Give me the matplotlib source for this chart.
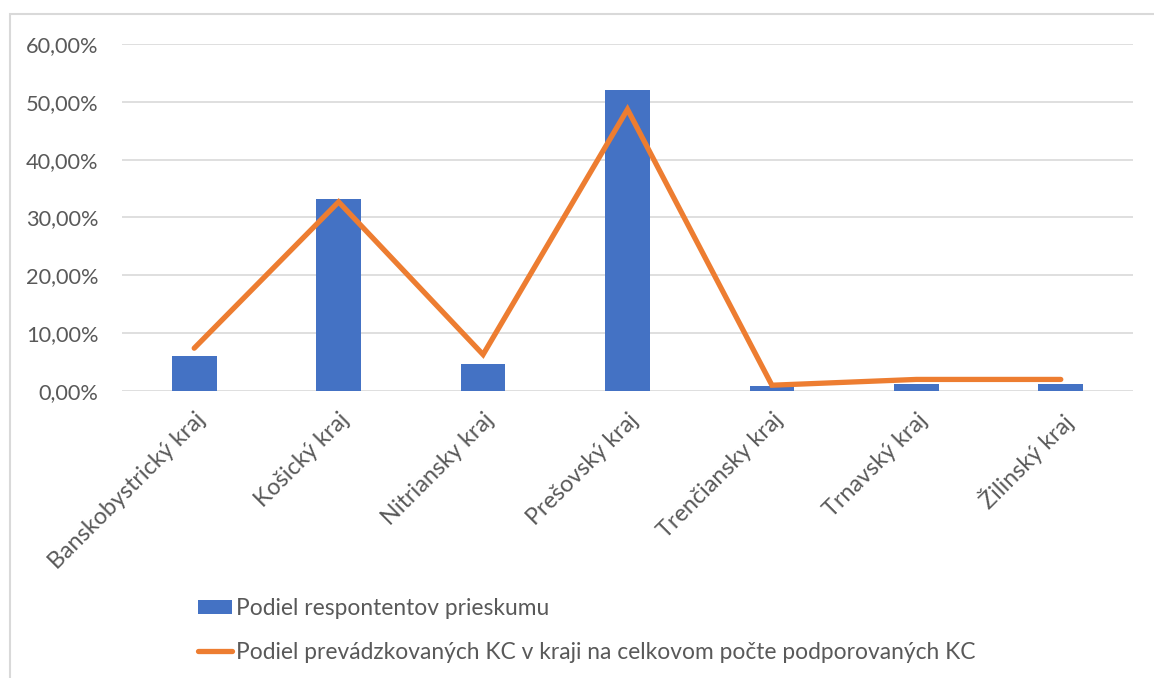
import matplotlib
matplotlib.use('Agg')
import matplotlib.pyplot as plt
from matplotlib.patches import Rectangle
from matplotlib.ticker import FuncFormatter
import numpy as np

# podiel podľa krajov
kraje = ['Banskobystrický kraj', 'Košický kraj', 'Nitriansky kraj', 'Prešovský kraj',
         'Trenčiansky kraj', 'Trnavský kraj', 'Žilinský kraj']
respondenti = [6.0, 33.2, 4.6, 52.0, 0.9, 1.2, 1.2]
prevadzkovane_kc = [7.4, 32.7, 6.3, 48.7, 1.0, 2.0, 2.0]

BLUE = '#4472C4'
ORANGE = '#ED7D31'
GRID = '#D9D9D9'
TEXT = '#595959'

plt.rcParams['font.family'] = ['Lato', 'DejaVu Sans']

W, H = 1154, 678
fig = plt.figure(figsize=(W / 100, H / 100), dpi=100)

# rámček grafu
fig.patches.append(Rectangle((10 / W, -0.1), 1.2, 1.1 - 14 / H, transform=fig.transFigure,
                             fill=False, edgecolor=GRID, linewidth=1.5))

ax = fig.add_axes([122 / W, 1 - 391 / H, (1133 - 122) / W, (391 - 44) / H])
x = np.arange(len(kraje))
bars = ax.bar(x, respondenti, width=0.31, color=BLUE, zorder=2,
              label='Podiel respontentov prieskumu')
line, = ax.plot(x, prevadzkovane_kc, color=ORANGE, linewidth=3.8, solid_capstyle='round',
                solid_joinstyle='miter', zorder=3,
                label='Podiel prevádzkovaných KC v kraji na celkovom počte podporovaných KC')

ax.set_xlim(-0.5, len(kraje) - 0.5)
ax.set_ylim(0, 60)
ax.set_yticks(np.arange(0, 61, 10))
ax.yaxis.set_major_formatter(FuncFormatter(lambda v, p: f'{v:.2f}%'.replace('.', ',')))
ax.grid(axis='y', color=GRID, linewidth=1.2, zorder=0)
for s in ax.spines.values():
    s.set_visible(False)
ax.tick_params(length=0, labelcolor=TEXT)
ax.tick_params(axis='y', pad=17, labelsize=15.7)
ax.set_xticks(x)
ax.set_xticklabels(kraje, rotation=45, ha='right', rotation_mode='anchor')
ax.tick_params(axis='x', pad=13, labelsize=16.8)

fig.legend([bars, line], [bars.get_label(), line.get_label()], loc='upper left',
           bbox_to_anchor=(198 / W, 1 - 598 / H),
           frameon=False, fontsize=16.4, labelcolor=TEXT, handlelength=1.5,
           handleheight=0.62, handletextpad=0.17, labelspacing=1.0,
           borderpad=0, borderaxespad=0)

fig.savefig('out.png', dpi=100)
